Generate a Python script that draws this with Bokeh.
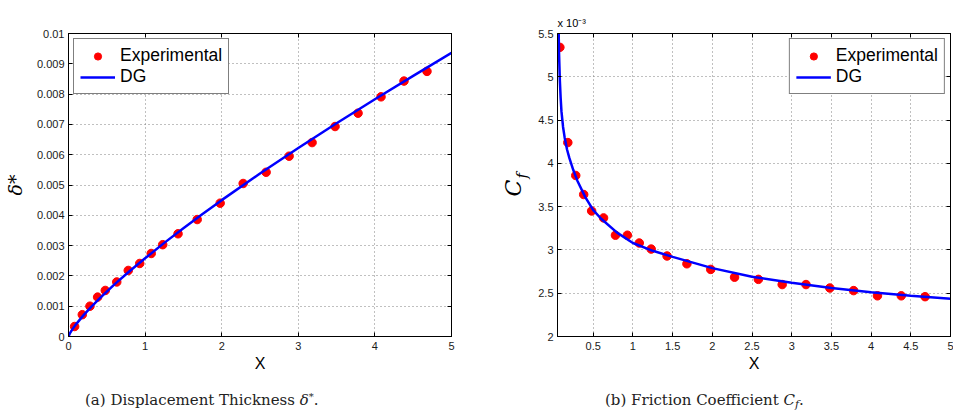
from bokeh.plotting import figure
from bokeh.layouts import row, column
from bokeh.models import (FixedTicker, CustomJSTickFormatter, Legend, LegendItem,
                          LinearAxis, Title, Div)
from bokeh.embed import file_html
from bokeh.resources import INLINE

# ---------------- data ----------------
exp_x = [0.08, 0.18, 0.28, 0.38, 0.48, 0.63, 0.78, 0.93, 1.08, 1.23, 1.43,
         1.68, 1.98, 2.28, 2.58, 2.88, 3.18, 3.48, 3.78, 4.08, 4.38, 4.68]
exp_delta = [0.00033, 0.00072, 0.00100, 0.00130, 0.00152, 0.00180, 0.00218,
             0.00241, 0.00274, 0.00303, 0.00339, 0.00386, 0.00440, 0.00505,
             0.00542, 0.00595, 0.00640, 0.00693, 0.00737, 0.00791, 0.00843,
             0.00875]
# friction coefficient, in units of 1e-3
exp_cf = [5.34, 4.24, 3.86, 3.64, 3.45, 3.37, 3.17, 3.17, 3.08, 3.01, 2.93,
          2.84, 2.775, 2.685, 2.66, 2.60, 2.60, 2.56, 2.53, 2.47, 2.47, 2.46]

dg_delta_x = [0, 0.02, 0.05, 0.1, 0.2, 0.3, 0.4, 0.6, 0.8, 1.0, 1.25, 1.5,
              1.75, 2.0, 2.5, 3.0, 3.5, 4.0, 4.5, 5.0]
dg_delta = [0, 0.000113, 0.000235, 0.000409, 0.000713, 0.000986, 0.00124,
            0.00172, 0.00216, 0.00258, 0.00309, 0.00357, 0.00404, 0.00450,
            0.00538, 0.00622, 0.00704, 0.00783, 0.00860, 0.00936]

dg_cf_x = [0.058, 0.065, 0.07, 0.08, 0.09, 0.1, 0.12, 0.14, 0.17, 0.2, 0.25,
           0.3, 0.4, 0.5, 0.6, 0.8, 1.0, 1.25, 1.5, 2.0, 2.5, 3.0, 3.5, 4.0,
           4.5, 5.0]
dg_cf = [5.9, 5.5, 5.25, 4.95, 4.75, 4.6, 4.42, 4.3, 4.16, 4.06, 3.92, 3.80,
         3.61, 3.46, 3.36, 3.20, 3.08, 2.99, 2.92, 2.79, 2.69, 2.62, 2.56,
         2.51, 2.47, 2.435]

xticks_a = [0, 1, 2, 3, 4, 5]
yticks_a = [0, 0.001, 0.002, 0.003, 0.004, 0.005, 0.006, 0.007, 0.008,
            0.009, 0.01]
xticks_b = [0.5, 1, 1.5, 2, 2.5, 3, 3.5, 4, 4.5, 5]
yticks_b = [2, 2.5, 3, 3.5, 4, 4.5, 5, 5.5]

SANS = "Liberation Sans"
SERIF = "DejaVu Serif"
RED = "#ff0000"
BLUE = "#0000ff"
FIG_H = 376


def fmt(mult):
    return CustomJSTickFormatter(
        code="return String(Math.round(tick*%d)/%d);" % (mult, mult))


def style_axis(ax, ticks, formatter, show_labels=True):
    ax.ticker = FixedTicker(ticks=ticks)
    ax.formatter = formatter
    ax.axis_line_color = "black"
    ax.axis_line_width = 1
    ax.major_tick_in = 4
    ax.major_tick_out = 0
    ax.major_tick_line_color = "black"
    ax.minor_tick_line_color = None
    if show_labels:
        ax.major_label_text_font = SANS
        ax.major_label_text_font_size = "11px"
        ax.major_label_text_color = "#1a1a1a"
        ax.major_label_standoff = 5
    else:
        ax.major_label_text_font_size = "1px"
        ax.major_label_text_color = None
        ax.major_label_text_alpha = 0
        ax.major_label_standoff = 0


def make_fig(width, xr, yr, xticks, yticks, xmult, ymult, mb_left, mb_right,
             mb_top):
    p = figure(width=width, height=FIG_H, x_range=xr, y_range=yr,
               output_backend="svg", toolbar_location=None,
               min_border_left=mb_left, min_border_right=mb_right,
               min_border_top=mb_top, min_border_bottom=FIG_H - 336)
    p.outline_line_color = "black"
    p.outline_line_width = 1
    p.outline_line_alpha = 1
    p.background_fill_color = "white"
    p.border_fill_color = "white"
    xa = p.xaxis[0]
    ya = p.yaxis[0]
    style_axis(xa, xticks, fmt(xmult))
    style_axis(ya, yticks, fmt(ymult))
    ya.major_label_standoff = 4
    xa.axis_label = "X"
    xa.axis_label_text_font = SANS
    xa.axis_label_text_font_size = "16px"
    xa.axis_label_text_font_style = "normal"
    xa.axis_label_text_color = "black"
    xa.axis_label_standoff = 2
    top = LinearAxis()
    style_axis(top, xticks, fmt(xmult), show_labels=False)
    p.add_layout(top, "above")
    right = LinearAxis()
    style_axis(right, yticks, fmt(ymult), show_labels=False)
    p.add_layout(right, "right")
    for g in (p.xgrid[0], p.ygrid[0]):
        g.grid_line_color = "#808080"
        g.grid_line_dash = "1 3"
        g.grid_line_width = 1
    p.xgrid[0].ticker = FixedTicker(ticks=xticks)
    p.ygrid[0].ticker = FixedTicker(ticks=yticks)
    return p, xa, ya


def add_legend(p, r_exp, r_dg, loc):
    leg = Legend(items=[LegendItem(label="Experimental", renderers=[r_exp]),
                        LegendItem(label="DG", renderers=[r_dg])],
                 location=loc)
    leg.margin = 5
    leg.padding = 6
    leg.spacing = 0
    leg.glyph_width = 35
    leg.glyph_height = 18
    leg.label_height = 18
    leg.label_standoff = 5
    leg.label_text_font = SANS
    leg.label_text_font_size = "17.5px"
    leg.label_text_color = "black"
    leg.border_line_color = "black"
    leg.border_line_width = 1
    leg.background_fill_color = "white"
    leg.background_fill_alpha = 1
    p.add_layout(leg)


# ---------------- (a) displacement thickness ----------------
p1, xa1, ya1 = make_fig(480, (0, 5), (0, 0.01), xticks_a, yticks_a, 100, 1000,
                        65, 29, 33)
r1_exp = p1.scatter(exp_x, exp_delta, size=8.5, color=RED, line_color=RED)
r1_dg = p1.line(dg_delta_x, dg_delta, line_width=2.5, color=BLUE)
add_legend(p1, r1_exp, r1_dg, "top_left")
ya1.axis_label = "δ*"
ya1.axis_label_text_font = SERIF
ya1.axis_label_text_font_size = "19px"
ya1.axis_label_text_font_style = "italic"
ya1.axis_label_text_color = "black"
ya1.axis_label_standoff = 8

# ---------------- (b) friction coefficient ----------------
p2, xa2, ya2 = make_fig(473, (0.05, 5), (2, 5.5), xticks_b, yticks_b, 100, 100,
                        77, 3, 27)
r2_exp = p2.scatter(exp_x, exp_cf, size=8.5, color=RED, line_color=RED)
r2_dg = p2.line(dg_cf_x, dg_cf, line_width=2.5, color=BLUE)
add_legend(p2, r2_exp, r2_dg, "top_right")
# y label C_f : subscript "f" nearer the axis, "C" outside it
p2.add_layout(Title(text="f", align="left", offset=158, standoff=10,
                    text_font=SERIF, text_font_style="italic",
                    text_font_size="15px", text_color="black"), "left")
p2.add_layout(Title(text="C", align="left", offset=140, standoff=-40,
                    text_font=SERIF, text_font_style="italic",
                    text_font_size="22px", text_color="black"), "left")
# exponent marker above the axis
p2.add_layout(Title(text="x 10⁻³", align="left", offset=0, standoff=10,
                    text_font=SANS, text_font_style="normal",
                    text_font_size="11px", text_color="black"), "above")

# ---------------- captions ----------------
CAP = ("font-family:'DejaVu Serif';font-size:15px;line-height:18px;"
       "color:#222;white-space:nowrap;")
SUP = "font-size:10px;line-height:0;vertical-align:5px;"
SUB = "font-size:11px;line-height:0;vertical-align:-3px;font-style:italic;"
cap_a = Div(text=('<div style="%spadding:15px 0 0 85px;">(a) Displacement '
                  'Thickness <i>δ</i><span style="%s">*</span>.</div>')
                 % (CAP, SUP),
            width=480, height=40, margin=0)
cap_b = Div(text=('<div style="%spadding:15px 0 0 125px;">(b) Friction '
                  'Coefficient <i>C</i><span style="%s">f</span>.</div>')
                 % (CAP, SUB),
            width=473, height=40, margin=0)

layout = column(row(p1, p2), row(cap_a, cap_b))
open("out.html", "w").write(file_html(layout, INLINE))
